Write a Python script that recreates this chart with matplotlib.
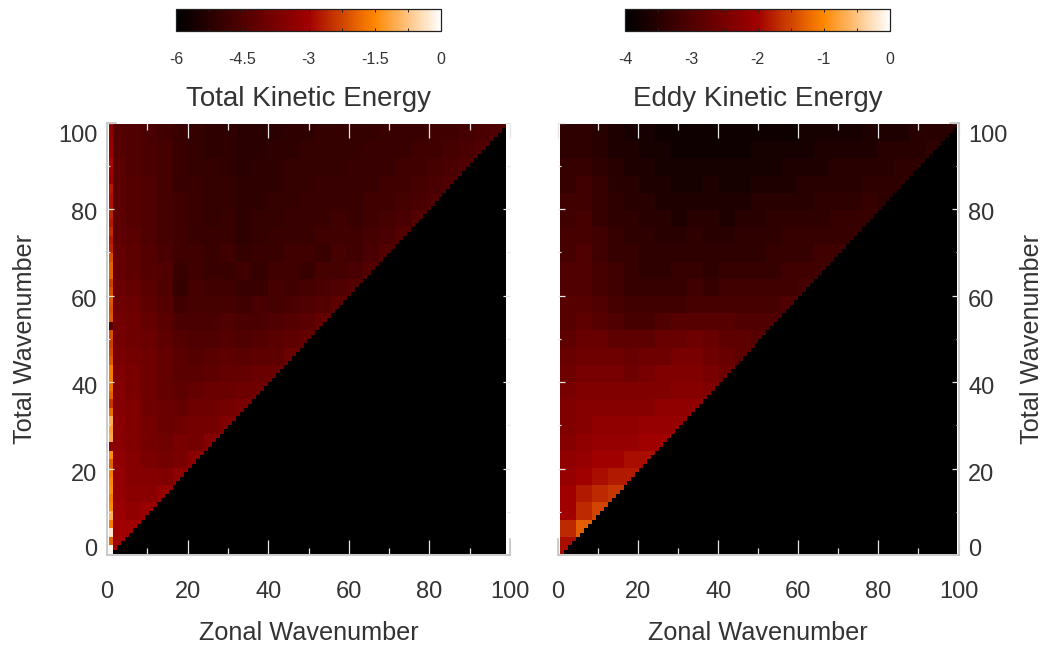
import numpy as np
import matplotlib
matplotlib.use('Agg')
from matplotlib import pyplot as plt
from matplotlib import transforms
from matplotlib.colors import LinearSegmentedColormap

plt.rcParams['font.family'] = ['Liberation Sans', 'DejaVu Sans']

TEXT_COLOR = '#333333'
AXIS_COLOR = '#c4c4c4'
W, H = 1044, 645

# log10 energy in blocks of 4 wavenumbers
# one row per total wavenumber block, one entry per zonal wavenumber block
TOTAL_KE_ROWS = [
    [-3.0],
    [-3.0, -3.0],
    [-3.1, -3.3, -3.1],
    [-3.2, -3.4, -3.4, -3.2],
    [-3.2, -3.5, -3.5, -3.6, -3.3],
    [-3.3, -3.5, -3.7, -3.8, -3.7, -3.4],
    [-3.4, -3.6, -3.8, -3.9, -3.7, -3.8, -3.5],
    [-3.4, -3.6, -3.8, -4.0, -3.9, -3.8, -3.8, -3.6],
    [-3.5, -3.6, -3.9, -4.0, -4.1, -3.9, -3.9, -3.8, -3.7],
    [-3.5, -3.7, -3.9, -4.1, -4.2, -4.1, -4.0, -4.0, -3.9, -3.9],
    [-3.6, -3.7, -3.9, -4.1, -4.3, -4.3, -4.2, -4.1, -4.1, -4.0, -4.0],
    [-3.7, -3.8, -3.9, -4.1, -4.3, -4.4, -4.3, -4.2, -4.3, -4.2, -4.2, -4.0],
    [-3.8, -3.9, -4.0, -4.2, -4.4, -4.5, -4.5, -4.4, -4.5, -4.4, -4.3, -4.2, -4.1],
    [-3.8, -3.9, -4.1, -4.3, -4.6, -4.6, -4.6, -4.5, -4.6, -4.6, -4.5, -4.4, -4.3, -4.1],
    [-3.9, -4.0, -4.2, -4.4, -4.8, -4.7, -4.7, -4.7, -4.8, -4.6, -4.7, -4.6, -4.5, -4.4, -4.2],
    [-4.0, -4.1, -4.3, -4.5, -5.0, -4.7, -4.8, -4.8, -4.9, -4.9, -4.7, -4.8, -4.7, -4.6, -4.5, -4.4],
    [-4.1, -4.2, -4.4, -4.5, -4.9, -4.8, -4.9, -4.9, -4.8, -5.0, -4.8, -4.8, -4.9, -4.7, -4.7, -4.6, -4.4],
    [-4.1, -4.2, -4.4, -4.6, -4.8, -4.8, -4.9, -4.8, -5.0, -4.9, -4.9, -4.8, -4.8, -4.9, -4.7, -4.8, -4.6, -4.4],
    [-4.2, -4.3, -4.5, -4.7, -4.8, -4.9, -4.9, -4.9, -5.1, -5.0, -4.9, -4.9, -4.9, -4.8, -4.8, -4.8, -4.7, -4.6, -4.4],
    [-4.2, -4.4, -4.5, -4.7, -4.8, -4.9, -5.0, -4.9, -5.1, -5.0, -5.0, -4.9, -4.9, -4.9, -4.8, -4.9, -4.8, -4.7, -4.6, -4.4],
    [-4.3, -4.4, -4.5, -4.7, -4.8, -4.9, -5.0, -5.0, -5.1, -5.1, -5.0, -5.0, -4.9, -4.9, -4.9, -4.9, -4.8, -4.8, -4.7, -4.6, -4.5],
    [-4.3, -4.4, -4.5, -4.7, -4.9, -4.9, -5.0, -5.0, -5.1, -5.1, -5.1, -5.0, -5.0, -4.9, -4.9, -4.9, -4.9, -4.8, -4.8, -4.7, -4.6, -4.5],
    [-4.3, -4.5, -4.6, -4.7, -4.9, -5.0, -5.0, -5.1, -5.2, -5.1, -5.1, -5.0, -5.0, -5.0, -5.0, -4.9, -4.9, -4.9, -4.8, -4.8, -4.7, -4.6, -4.5],
    [-4.4, -4.5, -4.6, -4.7, -4.9, -5.0, -5.1, -5.1, -5.2, -5.2, -5.1, -5.1, -5.0, -5.0, -5.0, -5.0, -4.9, -4.9, -4.9, -4.8, -4.8, -4.7, -4.6, -4.5],
    [-4.4, -4.5, -4.6, -4.8, -4.9, -5.0, -5.1, -5.1, -5.2, -5.2, -5.2, -5.1, -5.1, -5.0, -5.0, -5.0, -5.0, -4.9, -4.9, -4.9, -4.8, -4.8, -4.7, -4.6, -4.5],
]

# total wavenumber 0, 2, 4, ... 98 at zonal wavenumber 0 (the bright left column)
TOTAL_KE_M0 = [
    -0.1, -1.9, -0.3, -1.6, -1.0, -1.5, -1.6, -1.4, -1.5, -1.6,
    -1.9, -1.4, -3.4, -1.1, -1.2, -1.0, -1.8, -2.4, -1.9, -1.7,
    -1.6, -1.6, -2.0, -2.2, -2.3, -2.1, -4.5, -2.0, -2.1, -2.0,
    -2.1, -2.3, -1.9, -1.9, -2.1, -2.6, -2.7, -2.5, -2.7, -2.6,
    -2.8, -2.8, -2.7, -3.1, -3.0, -2.9, -3.1, -3.2, -3.3, -3.4,
]

EDDY_KE_ROWS = [
    [-1.9],
    [-1.7, -1.3],
    [-2.0, -1.7, -1.5],
    [-2.0, -1.8, -1.7, -1.6],
    [-2.1, -2.0, -1.9, -1.8, -1.8],
    [-2.2, -2.1, -2.0, -2.0, -1.9, -1.9],
    [-2.3, -2.2, -2.1, -2.1, -2.1, -2.0, -2.0],
    [-2.4, -2.3, -2.2, -2.2, -2.2, -2.1, -2.1, -2.1],
    [-2.4, -2.3, -2.3, -2.3, -2.3, -2.3, -2.2, -2.2, -2.2],
    [-2.5, -2.4, -2.4, -2.4, -2.4, -2.4, -2.4, -2.3, -2.3, -2.4],
    [-2.6, -2.5, -2.5, -2.5, -2.6, -2.5, -2.4, -2.4, -2.4, -2.5, -2.6],
    [-2.7, -2.6, -2.6, -2.6, -2.7, -2.6, -2.6, -2.5, -2.5, -2.6, -2.7, -2.8],
    [-2.8, -2.7, -2.7, -2.8, -2.8, -2.8, -2.7, -2.7, -2.6, -2.7, -2.8, -2.8, -2.9],
    [-2.9, -2.8, -2.9, -3.0, -3.1, -3.1, -3.0, -2.9, -2.9, -2.9, -2.9, -3.0, -3.0, -3.0],
    [-2.9, -2.9, -3.0, -3.1, -3.2, -3.2, -3.2, -3.2, -3.1, -3.1, -3.1, -3.1, -3.1, -3.1, -3.0],
    [-3.0, -3.0, -3.1, -3.2, -3.3, -3.3, -3.3, -3.3, -3.2, -3.3, -3.2, -3.2, -3.2, -3.2, -3.2, -3.1],
    [-3.0, -3.0, -3.1, -3.2, -3.3, -3.4, -3.4, -3.3, -3.3, -3.4, -3.3, -3.3, -3.3, -3.3, -3.2, -3.2, -3.2],
    [-3.1, -3.0, -3.2, -3.3, -3.3, -3.4, -3.4, -3.4, -3.4, -3.4, -3.4, -3.4, -3.4, -3.3, -3.3, -3.3, -3.2, -3.2],
    [-3.1, -3.1, -3.2, -3.3, -3.4, -3.4, -3.5, -3.5, -3.4, -3.5, -3.5, -3.4, -3.4, -3.4, -3.3, -3.3, -3.3, -3.3, -3.3],
    [-3.2, -3.1, -3.3, -3.4, -3.4, -3.5, -3.5, -3.6, -3.5, -3.5, -3.6, -3.5, -3.5, -3.4, -3.4, -3.4, -3.4, -3.3, -3.3, -3.3],
    [-3.2, -3.2, -3.3, -3.4, -3.5, -3.5, -3.6, -3.6, -3.6, -3.6, -3.6, -3.6, -3.5, -3.5, -3.5, -3.5, -3.4, -3.4, -3.4, -3.3, -3.4],
    [-3.3, -3.2, -3.3, -3.5, -3.5, -3.6, -3.6, -3.7, -3.7, -3.6, -3.7, -3.7, -3.6, -3.6, -3.6, -3.5, -3.5, -3.5, -3.5, -3.4, -3.4, -3.4],
    [-3.3, -3.3, -3.4, -3.5, -3.6, -3.6, -3.7, -3.7, -3.7, -3.7, -3.7, -3.7, -3.7, -3.7, -3.6, -3.6, -3.6, -3.5, -3.5, -3.5, -3.5, -3.4, -3.4],
    [-3.4, -3.4, -3.5, -3.6, -3.6, -3.7, -3.7, -3.8, -3.8, -3.8, -3.8, -3.8, -3.7, -3.7, -3.7, -3.7, -3.6, -3.6, -3.6, -3.6, -3.5, -3.5, -3.5, -3.4],
    [-3.4, -3.4, -3.5, -3.6, -3.7, -3.7, -3.8, -3.8, -3.8, -3.8, -3.8, -3.8, -3.8, -3.8, -3.8, -3.7, -3.7, -3.7, -3.7, -3.6, -3.6, -3.6, -3.5, -3.5, -3.5],
]

WAVENUMBER_TICKS = [0, 20, 40, 60, 80, 100]
WAVENUMBER_MINOR = [10, 30, 50, 70, 90]
TOTAL_CBAR_TICKS = [-6, -4.5, -3, -1.5, 0]
TOTAL_CBAR_LABELS = ['-6', '-4.5', '-3', '-1.5', '0']
EDDY_CBAR_TICKS = [-4, -3, -2, -1, 0]
EDDY_CBAR_LABELS = ['-4', '-3', '-2', '-1', '0']

# IDL red temperature style table
cmap = LinearSegmentedColormap.from_list('red_temp', [
    (0.0, (0, 0, 0)),
    (0.5, (160 / 255, 0, 0)),
    (0.75, (1, 135 / 255, 0)),
    (1.0, (1, 1, 1)),
])


def px_axes(fig, left, top, right, bottom):
    return fig.add_axes([left / W, 1 - bottom / H, (right - left) / W, (bottom - top) / H])


def build_grid(rows, vmin, first_column=None):
    grid = np.full((100, 100), float(vmin))
    for i, row in enumerate(rows):
        for j, value in enumerate(row):
            block = grid[i * 4:i * 4 + 4, j * 4:j * 4 + 4]
            block[:] = value
    # nothing exists for zonal wavenumber above total wavenumber
    grid[np.triu_indices(100, 1)] = vmin
    if first_column is not None:
        grid[:, 0] = np.repeat(first_column, 2)
    return grid


def style_panel(ax):
    ax.set_xlim(0, 100)
    ax.set_ylim(0, 100)
    ax.set_xticks(WAVENUMBER_TICKS)
    ax.set_xticks(WAVENUMBER_MINOR, minor=True)
    ax.set_yticks(WAVENUMBER_TICKS)
    ax.set_yticks(WAVENUMBER_MINOR, minor=True)
    ax.tick_params(axis='x', which='major', direction='in', top=True, bottom=True, length=11,
                   width=0.9, color='#e6e6e6', labelsize=17, labelcolor=TEXT_COLOR, pad=19)
    ax.tick_params(axis='x', which='minor', direction='in', top=True, bottom=True, length=5,
                   width=0.9, color='#e6e6e6')
    ax.tick_params(axis='y', which='major', direction='in', left=True, right=True, length=5,
                   width=0.9, color='#e6e6e6', labelsize=17, labelcolor=TEXT_COLOR, pad=7)
    ax.tick_params(axis='y', which='minor', direction='in', left=True, right=True, length=2,
                   width=0.9, color='#e6e6e6')
    ax.set_xlabel('Zonal Wavenumber', fontsize=18.2, color=TEXT_COLOR, labelpad=13)
    ax.set_ylabel('Total Wavenumber', fontsize=18.2, color=TEXT_COLOR)
    for spine in ax.spines.values():
        spine.set_color(AXIS_COLOR)
        spine.set_linewidth(1.2)


def shift_y_labels(ax):
    # the y labels sit off their ticks in the original
    offsets = [-8, 4, 4, 3, 2, 11]
    for tick, dy in zip(ax.yaxis.get_major_ticks(), offsets):
        for label in (tick.label1, tick.label2):
            label.set_transform(label.get_transform() + transforms.Affine2D().translate(0, -dy))


def style_colorbar(cb, ticks, labels, title):
    cax = cb.ax
    cb.set_ticks(ticks)
    cb.set_ticklabels(labels)
    vmin, vmax = ticks[0], ticks[-1]
    step = (vmax - vmin) / 8
    cax.set_xticks([vmin + step * k for k in (1, 3, 5, 7)], minor=True)
    cax.tick_params(axis='x', which='both', direction='in', top=True, bottom=True, length=2.5,
                    width=0.7, color='#222222', labelsize=11.5, labelcolor=TEXT_COLOR, pad=15)
    cb.outline.set_edgecolor('#222222')
    cb.outline.set_linewidth(0.9)
    cax.set_xlabel(title, fontsize=20, color=TEXT_COLOR, labelpad=14)


fig = plt.figure(figsize=(W / 100, H / 100), dpi=100)

# left panel
ax1 = px_axes(fig, 107, 122.5, 510, 555)
total_grid = build_grid(TOTAL_KE_ROWS, -6, TOTAL_KE_M0)
im1 = ax1.imshow(total_grid, origin='lower', extent=(0.5, 99, 0.25, 99.5), cmap=cmap,
                 vmin=-6, vmax=0, aspect='auto', interpolation='nearest')
style_panel(ax1)
ax1.yaxis.labelpad = 15
shift_y_labels(ax1)
ax1.spines['top'].set_bounds(0, 2.2)
ax1.spines['right'].set_bounds(0, 3.7)

# right panel
ax2 = px_axes(fig, 558, 122.5, 958.5, 555)
eddy_grid = build_grid(EDDY_KE_ROWS, -4)
im2 = ax2.imshow(eddy_grid, origin='lower', extent=(0.5, 99.4, 0.25, 99.5), cmap=cmap,
                 vmin=-4, vmax=0, aspect='auto', interpolation='nearest')
style_panel(ax2)
ax2.yaxis.tick_right()
ax2.tick_params(axis='y', which='both', left=True, right=True)
ax2.yaxis.set_label_position('right')
ax2.yaxis.labelpad = 9
shift_y_labels(ax2)
ax2.spines['top'].set_bounds(97.8, 100)
ax2.spines['left'].set_bounds(0, 3.7)

# colorbars
cax1 = px_axes(fig, 176, 9, 441, 31)
cb1 = fig.colorbar(im1, cax=cax1, orientation='horizontal')
style_colorbar(cb1, TOTAL_CBAR_TICKS, TOTAL_CBAR_LABELS, 'Total Kinetic Energy')

cax2 = px_axes(fig, 625, 9, 890, 31)
cb2 = fig.colorbar(im2, cax=cax2, orientation='horizontal')
style_colorbar(cb2, EDDY_CBAR_TICKS, EDDY_CBAR_LABELS, 'Eddy Kinetic Energy')

fig.savefig('out.png', dpi=100)
